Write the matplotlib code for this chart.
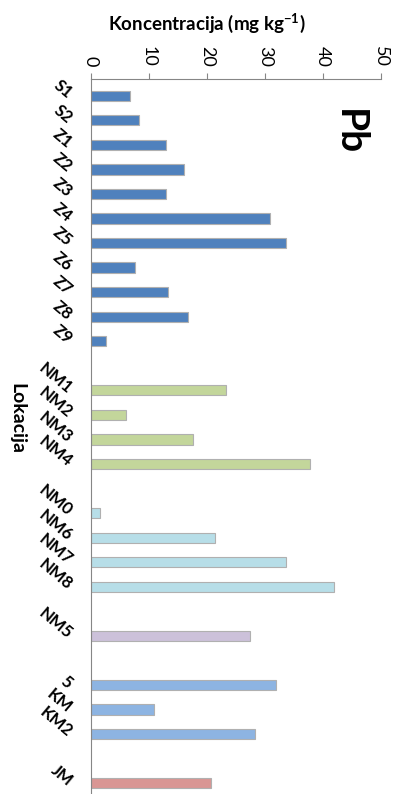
import numpy as np
import matplotlib
matplotlib.use('Agg')
import matplotlib.pyplot as plt

plt.rcParams['font.family'] = ['Lato', 'DejaVu Sans']
plt.rcParams['mathtext.default'] = 'regular'

# groups of locations (a blank slot is left between groups)
names_sz = ['S1', 'S2', 'Z1', 'Z2', 'Z3', 'Z4', 'Z5', 'Z6', 'Z7', 'Z8', 'Z9']
vals_sz = [6.8, 8.2, 13.0, 16.1, 12.9, 30.8, 33.6, 7.5, 13.2, 16.7, 2.5]

names_nm_a = ['NM1', 'NM2', 'NM3', 'NM4']
vals_nm_a = [23.3, 6.0, 17.6, 37.8]

names_nm_b = ['NM0', 'NM6', 'NM7', 'NM8']
vals_nm_b = [1.6, 21.4, 33.7, 41.9]

names_nm5 = ['NM5']
vals_nm5 = [27.4]

names_km = ['5', 'KM', 'KM2']
vals_km = [31.9, 10.9, 28.2]

names_jm = ['JM']
vals_jm = [20.7]

group_names = [names_sz, names_nm_a, names_nm_b, names_nm5, names_km, names_jm]
group_vals = [vals_sz, vals_nm_a, vals_nm_b, vals_nm5, vals_km, vals_jm]
group_colors = ['#4F81BD', '#C3D69B', '#B7DEE8', '#CCC1DA', '#8DB4E2', '#D99694']

fig = plt.figure(figsize=(3.98, 7.94), dpi=100)
ax = fig.add_axes([91 / 398, 0, 290 / 398, 1 - 79 / 794])

pos = 0
tick_pos = []
tick_lab = []
for names, vals, col in zip(group_names, group_vals, group_colors):
    y = np.arange(pos, pos + len(names))
    ax.barh(y, vals, height=0.42, color=col, edgecolor='#B0B0B0', linewidth=0.8)
    tick_pos.extend(y)
    tick_lab.extend(names)
    pos += len(names) + 1

ax.set_xlim(0, 50)
ax.set_ylim(28.44, -0.68)

ax.xaxis.tick_top()
ax.set_xticks([0, 10, 20, 30, 40, 50])
ax.tick_params(axis='x', direction='out', length=4, color='#868686', pad=5,
               labelsize=13, labelrotation=-90)

ax.set_yticks(tick_pos)
ax.set_yticklabels(tick_lab, fontsize=12, fontweight='bold', rotation=-40,
                   ha='right', va='center', rotation_mode='anchor')
ax.tick_params(axis='y', length=0, pad=15)

for s in ['right', 'bottom']:
    ax.spines[s].set_visible(False)
ax.spines['top'].set_color('#868686')
ax.spines['left'].set_color('#868686')

fig.text(207 / 398, 1 - 23 / 794, 'Koncentracija (mg kg$^{-1}$)', ha='center', va='center',
         fontsize=13.5, fontweight='bold')
fig.text(17 / 398, 1 - 418 / 794, 'Lokacija', ha='center', va='center', rotation=-90,
         fontsize=14, fontweight='bold')
fig.text(349 / 398, 1 - 132 / 794, 'Pb', ha='center', va='center', rotation=-90,
         fontsize=28, fontweight='bold')

fig.savefig('out.png', dpi=100)
